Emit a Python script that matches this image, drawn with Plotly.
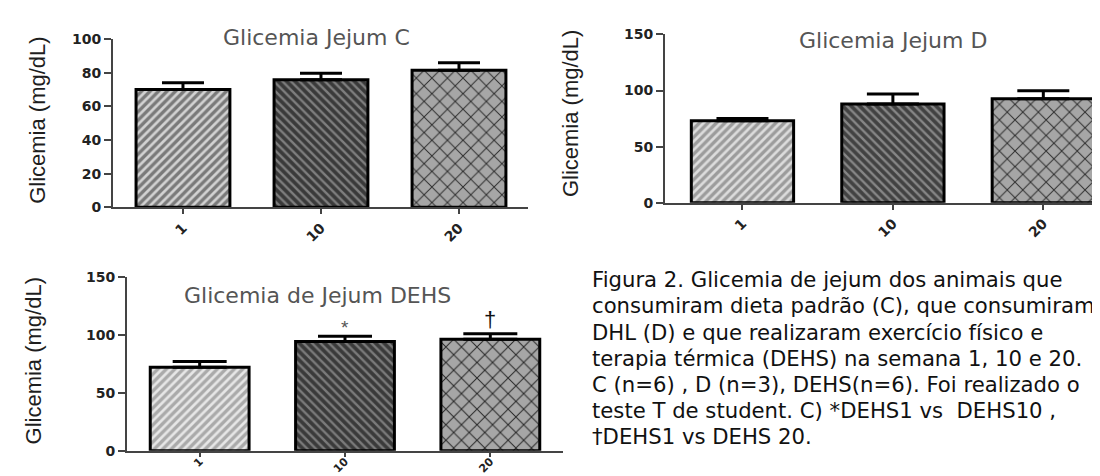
import plotly.graph_objects as go

W, H = 1100, 476

# ---------------- data ----------------
weeks = ["1", "10", "20"]

c_mean = [70.1, 75.9, 81.6]
c_sem = [4.0, 3.8, 4.4]

d_mean = [73.0, 88.0, 92.7]
d_sem = [2.1, 9.0, 7.1]

dehs_mean = [72.1, 94.4, 96.3]
dehs_sem = [4.9, 4.4, 4.7]

c_yticks = [0, 20, 40, 60, 80, 100]
d_yticks = [0, 50, 100, 150]
dehs_yticks = [0, 50, 100, 150]

titles = ["Glicemia Jejum C", "Glicemia Jejum D", "Glicemia de Jejum DEHS"]
ylabel = "Glicemia (mg/dL)"
sig_marks = ["", "*", "\u2020"]

caption_lines = [
    "Figura 2. Glicemia de jejum dos animais que",
    "consumiram dieta padrão (C), que consumiram",
    "DHL (D) e que realizaram exercício físico e",
    "terapia térmica (DEHS) na semana 1, 10 e 20.",
    "C (n=6) , D (n=3), DEHS(n=6). Foi realizado o",
    "teste T de student. C) *DEHS1 vs  DEHS10 ,",
    "\u2020DEHS1 vs DEHS 20.",
]

# ---------------- styles ----------------
def px(x):
    return x / W


def py(y):
    return 1 - y / H


shapes_pat = ["/", "\\", "x"]
pat_size = [6, 6, 11]
pat_solid = [0.45, 0.4, 0.17]
styles = {
    "C": dict(bg=["#7a7a7a", "#3a3a3a", "#a6a6a6"], fg=["#d2d2d2", "#7e7e7e", "#2e2e2e"]),
    "D": dict(bg=["#9c9c9c", "#424242", "#a6a6a6"], fg=["#dcdcdc", "#868686", "#2e2e2e"]),
    "E": dict(bg=["#aaaaaa", "#3a3a3a", "#a6a6a6"], fg=["#e6e6e6", "#7a7a7a", "#262626"]),
}

fig = go.Figure()


def add_panel(mean, sem, key, xa, ya, capw):
    st = styles[key]
    for i, (w, m, s) in enumerate(zip(weeks, mean, sem)):
        fig.add_trace(go.Bar(
            x=[w], y=[m], width=0.68,
            xaxis=xa, yaxis=ya,
            marker=dict(
                color=st["bg"][i],
                line=dict(color="black", width=3),
                pattern=dict(shape=shapes_pat[i], bgcolor=st["bg"][i],
                             fgcolor=st["fg"][i], fgopacity=1,
                             size=pat_size[i], solidity=pat_solid[i]),
            ),
            error_y=dict(type="data", symmetric=False, array=[s],
                         arrayminus=[0], color="black",
                         thickness=3, width=capw),
            hoverinfo="skip",
        ))


add_panel(c_mean, c_sem, "C", "x", "y", 21)
add_panel(d_mean, d_sem, "D", "x2", "y2", 26)
add_panel(dehs_mean, dehs_sem, "E", "x3", "y3", 27)

axis_col = "#444444"
tick_font = dict(family="DejaVu Sans", size=14, color="#222222", weight="bold")

xcommon = dict(type="category", categoryorder="array", categoryarray=weeks,
               showline=True, linecolor=axis_col, linewidth=2,
               ticks="outside", ticklen=5, tickwidth=2, tickcolor=axis_col,
               tickangle=-45, tickfont=tick_font, showgrid=False, zeroline=False,
               fixedrange=True)
ycommon = dict(showline=True, linecolor=axis_col, linewidth=2,
               ticks="outside", ticklen=7, tickwidth=2, tickcolor=axis_col,
               tickfont=tick_font, showgrid=False, zeroline=False, fixedrange=True)

fig.update_layout(
    width=W, height=H,
    margin=dict(l=0, r=0, t=0, b=0),
    paper_bgcolor="white", plot_bgcolor="white",
    showlegend=False, barmode="overlay",
    xaxis=dict(xcommon, domain=[px(105), px(520)], range=[-0.507, 2.5], anchor="y"),
    yaxis=dict(ycommon, domain=[py(198), py(24)], range=[0, 100],
               tickvals=c_yticks, anchor="x"),
    xaxis2=dict(xcommon, domain=[px(657), 1.0], range=[-0.515, 2.43], anchor="y2"),
    yaxis2=dict(ycommon, domain=[py(193.3), py(19)], range=[0, 150],
                tickvals=d_yticks, anchor="x2"),
    xaxis3=dict(xcommon, domain=[px(119), px(555)], range=[-0.5, 2.5], anchor="y3",
                ticklen=4, ticklabelstandoff=-6, tickfont=dict(tick_font, size=11)),
    yaxis3=dict(ycommon, domain=[py(450), py(270)], range=[0, 150],
                tickvals=dehs_yticks, anchor="x3"),
)

ann = []
# panel titles
title_pos = [(308, 22), (885, 25), (309, 289)]
for t, (tx, ty) in zip(titles, title_pos):
    ann.append(dict(text=t, x=px(tx), y=py(ty), xref="paper", yref="paper",
                    xanchor="center", yanchor="middle", showarrow=False,
                    font=dict(family="DejaVu Sans", size=22, color="#555555")))

# y labels
ylab_pos = [(30, 108.5), (562, 101.5), (25, 357.5)]
for (lx, ly) in ylab_pos:
    ann.append(dict(text=ylabel, x=px(lx), y=py(ly), xref="paper", yref="paper",
                    xanchor="center", yanchor="middle", textangle=-90, showarrow=False,
                    font=dict(family="Liberation Sans, Arial", size=22, color="#1e1e1e")))

# significance marks on DEHS panel
sig_style = {"*": dict(size=19, color="#555555", shift=-4),
             "\u2020": dict(size=22, color="#111111", shift=0)}
for i, (m, s, mk) in enumerate(zip(dehs_mean, dehs_sem, sig_marks)):
    if not mk:
        continue
    stl = sig_style[mk]
    ann.append(dict(text=mk, x=i, y=m + s, xref="x3", yref="y3",
                    xanchor="center", yanchor="bottom", showarrow=False,
                    yshift=stl["shift"],
                    font=dict(family="Liberation Sans, Arial", size=stl["size"],
                              color=stl["color"])))

# caption, one annotation per line
for i, line in enumerate(caption_lines):
    ann.append(dict(text=line, x=px(582), y=py(273 + 27 * i), xref="paper", yref="paper",
                    xanchor="left", yanchor="middle", showarrow=False,
                    font=dict(family="DejaVu Sans", size=21.2, color="#111111")))

fig.update_layout(annotations=ann)

fig.write_html("out.html")
